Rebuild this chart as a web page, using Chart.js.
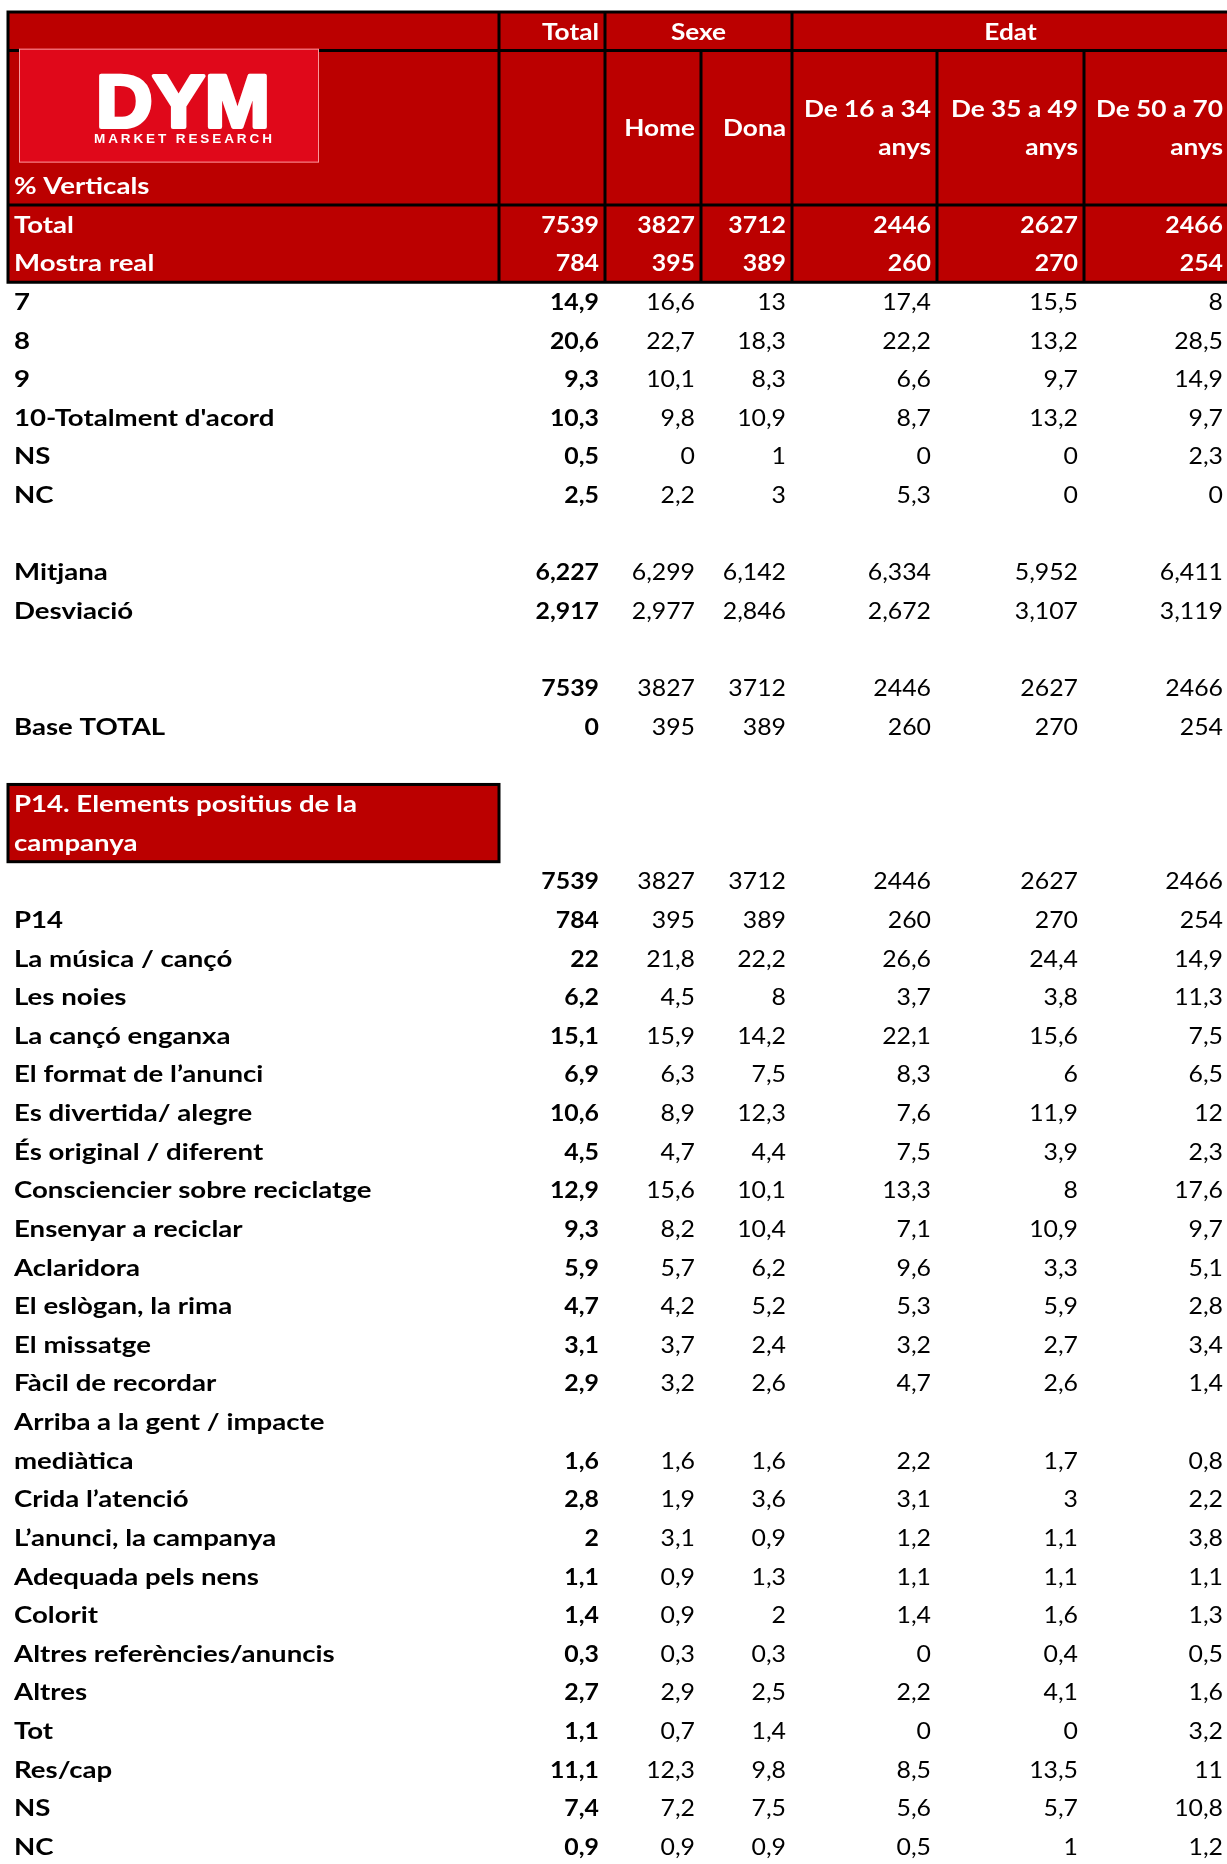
<!DOCTYPE html>
<html lang="ca">
<head>
<meta charset="UTF-8">
<title>P14. Elements positius de la campanya</title>
<script src="https://cdn.jsdelivr.net/npm/chart.js"></script>
<style>
  html, body { margin: 0; padding: 0; background: #ffffff; }
  canvas { display: block; }
</style>
</head>
<body>
<canvas id="taula" width="1227" height="1864"></canvas>
<script>
// ---- dades ----
const grups = ['Total', 'Sexe', 'Edat'];
const grupColumnes = [1, 2, 3];
const columnes = ['Total', 'Home', 'Dona', 'De 16 a 34\nanys', 'De 35 a 49\nanys', 'De 50 a 70\nanys'];

const universTotal = [7539, 3827, 3712, 2446, 2627, 2466];
const mostraReal = [784, 395, 389, 260, 270, 254];

const valoracioEtiquetes = ['7', '8', '9', "10-Totalment d'acord", 'NS', 'NC'];
const valoracioValors = [
  [14.9, 16.6, 13, 17.4, 15.5, 8],
  [20.6, 22.7, 18.3, 22.2, 13.2, 28.5],
  [9.3, 10.1, 8.3, 6.6, 9.7, 14.9],
  [10.3, 9.8, 10.9, 8.7, 13.2, 9.7],
  [0.5, 0, 1, 0, 0, 2.3],
  [2.5, 2.2, 3, 5.3, 0, 0]
];

const estadistEtiquetes = ['Mitjana', 'Desviació'];
const estadistValors = [
  [6.227, 6.299, 6.142, 6.334, 5.952, 6.411],
  [2.917, 2.977, 2.846, 2.672, 3.107, 3.119]
];

const baseEtiqueta = 'Base TOTAL';
const baseValors = [0, 395, 389, 260, 270, 254];

const p14Titol = ['P14. Elements positius de la', 'campanya'];
const p14Base = [784, 395, 389, 260, 270, 254];
const p14Etiquetes = [
  'La música / cançó', 'Les noies', 'La cançó enganxa', 'El format de l’anunci',
  'Es divertida/ alegre', 'És original / diferent', 'Consciencier sobre reciclatge',
  'Ensenyar a reciclar', 'Aclaridora', 'El eslògan, la rima', 'El missatge',
  'Fàcil de recordar', 'Arriba a la gent / impacte\nmediàtica', 'Crida l’atenció',
  'L’anunci, la campanya', 'Adequada pels nens', 'Colorit', 'Altres referències/anuncis',
  'Altres', 'Tot', 'Res/cap', 'NS', 'NC'
];
const p14Valors = [
  [22, 21.8, 22.2, 26.6, 24.4, 14.9],
  [6.2, 4.5, 8, 3.7, 3.8, 11.3],
  [15.1, 15.9, 14.2, 22.1, 15.6, 7.5],
  [6.9, 6.3, 7.5, 8.3, 6, 6.5],
  [10.6, 8.9, 12.3, 7.6, 11.9, 12],
  [4.5, 4.7, 4.4, 7.5, 3.9, 2.3],
  [12.9, 15.6, 10.1, 13.3, 8, 17.6],
  [9.3, 8.2, 10.4, 7.1, 10.9, 9.7],
  [5.9, 5.7, 6.2, 9.6, 3.3, 5.1],
  [4.7, 4.2, 5.2, 5.3, 5.9, 2.8],
  [3.1, 3.7, 2.4, 3.2, 2.7, 3.4],
  [2.9, 3.2, 2.6, 4.7, 2.6, 1.4],
  [1.6, 1.6, 1.6, 2.2, 1.7, 0.8],
  [2.8, 1.9, 3.6, 3.1, 3, 2.2],
  [2, 3.1, 0.9, 1.2, 1.1, 3.8],
  [1.1, 0.9, 1.3, 1.1, 1.1, 1.1],
  [1.4, 0.9, 2, 1.4, 1.6, 1.3],
  [0.3, 0.3, 0.3, 0, 0.4, 0.5],
  [2.7, 2.9, 2.5, 2.2, 4.1, 1.6],
  [1.1, 0.7, 1.4, 0, 0, 3.2],
  [11.1, 12.3, 9.8, 8.5, 13.5, 11],
  [7.4, 7.2, 7.5, 5.6, 5.7, 10.8],
  [0.9, 0.9, 0.9, 0.5, 1, 1.2]
];

// ---- disseny ----
const vermell = '#bb0000';
const vermellLogo = '#e0081a';
const colVores = [8, 499, 605, 701, 792, 937, 1084, 1229];  // unitats de l'eix x
const MIDA = 23;
const ESTIRAT_TEXT = 1.2;   // etiquetes
const ESTIRAT_CAP = 1.14;   // noms de columna
const ESTIRAT_NUM = 1.08;   // xifres
const FONT = 'Lato, "Open Sans", sans-serif';

const fmt = v => (v === null || v === undefined) ? '' : String(v).replace('.', ',');

// files: y en unitats de fila (cos a partir de 0, capçalera en negatiu)
const files = [
  { etiqueta: 'Total', valors: universTotal, top: -2, alt: 1, cap: true },
  { etiqueta: 'Mostra real', valors: mostraReal, top: -1, alt: 1, cap: true }
];
let cursor = 0;
function afegeix(etiqueta, valors, alt = 1) {
  files.push({ etiqueta, valors, top: cursor, alt, cap: false });
  cursor += alt;
}
valoracioEtiquetes.forEach((e, i) => afegeix(e, valoracioValors[i]));
cursor += 1;
estadistEtiquetes.forEach((e, i) => afegeix(e, estadistValors[i]));
cursor += 1;
afegeix('', universTotal);
afegeix(baseEtiqueta, baseValors);
cursor += 1;
const p14Top = cursor;
cursor += 2;
afegeix('', universTotal);
afegeix('P14', p14Base);
p14Etiquetes.forEach((e, i) => afegeix(e, p14Valors[i], e.includes('\n') ? 2 : 1));

const datasets = columnes.map((col, c) => ({
  label: col.replace('\n', ' '),
  data: files.map(f => ({
    x: colVores[c + 2], y: f.top + f.alt - 0.5,
    text: fmt(f.valors[c]), cap: f.cap, bold: c === 0 || f.cap, align: 'right'
  })),
  pointRadius: 0
}));
datasets.push({
  label: 'etiquetes',
  data: files.map(f => ({ x: colVores[0], y: f.top + 0.5, text: f.etiqueta, cap: f.cap, bold: true, align: 'left' })),
  pointRadius: 0
});

function escriu(ctx, t, x, y, align, bold, color, estirat = ESTIRAT_TEXT) {
  ctx.save();
  ctx.font = (bold ? 'bold ' : '') + MIDA + 'px ' + FONT;
  ctx.fillStyle = color;
  ctx.textAlign = align;
  ctx.textBaseline = 'alphabetic';
  ctx.translate(x, y + MIDA * 0.36);
  ctx.scale(estirat, 1);
  ctx.fillText(t, 0, 0);
  ctx.restore();
}

function logo(ctx, x0, y0, x1, y1) {
  const w = x1 - x0, h = y1 - y0;
  ctx.save();
  ctx.fillStyle = vermellLogo;
  ctx.fillRect(x0, y0, w, h);
  ctx.strokeStyle = 'rgba(255,190,190,0.8)';
  ctx.lineWidth = 1;
  ctx.strokeRect(x0 + 0.5, y0 + 0.5, w - 1, h - 1);
  // DYM
  const tx0 = x0 + w * 0.25, tx1 = x0 + w * 0.843;
  const cap = h * 0.47, mida = cap / 0.716;
  ctx.font = 'bold ' + mida + 'px "Liberation Sans", Arial, sans-serif';
  const nat = ctx.measureText('DYM').width;
  ctx.translate(tx0, y0 + h * 0.69);
  ctx.scale((tx1 - tx0 - 4) / nat, 1);
  ctx.fillStyle = '#ffffff';
  ctx.strokeStyle = '#ffffff';
  ctx.lineWidth = 4;
  ctx.lineJoin = 'round';
  ctx.fillText('DYM', 2, 0);
  ctx.strokeText('DYM', 2, 0);
  ctx.restore();
  // MARKET RESEARCH
  ctx.save();
  const m2 = (h * 0.085) / 0.716;
  ctx.font = 'bold ' + m2 + 'px "Liberation Sans", Arial, sans-serif';
  ctx.fillStyle = '#ffffff';
  const lletres = 'MARKET RESEARCH'.split('');
  const amples = lletres.map(l => ctx.measureText(l).width);
  const total = amples.reduce((a, b) => a + b, 0);
  const esp = (tx1 - tx0 - total) / (lletres.length - 1);
  let cx = tx0;
  lletres.forEach((l, i) => { ctx.fillText(l, cx, y0 + h * 0.83); cx += amples[i] + esp; });
  ctx.restore();
}

const taulaPlugin = {
  id: 'taula',
  beforeDatasetsDraw(chart) {
    const ctx = chart.ctx;
    const X = v => chart.scales.x.getPixelForValue(v);
    const Y = v => chart.scales.y.getPixelForValue(v);
    const dreta = X(colVores[7]);
    ctx.save();
    // fons capçalera
    ctx.fillStyle = vermell;
    ctx.fillRect(X(colVores[0]), Y(-7), dreta - X(colVores[0]), Y(0) - Y(-7));
    ctx.strokeStyle = '#000000';
    ctx.lineWidth = 3;
    ctx.beginPath();
    [-7, -6, -2, 0].forEach(r => { ctx.moveTo(X(colVores[0]) - 1.5, Y(r)); ctx.lineTo(dreta, Y(r)); });
    // vores de grup (totes dues files)
    let g = 1;
    const voresGrup = [0, 1];
    grupColumnes.forEach(n => { g += n; voresGrup.push(g); });
    voresGrup.forEach(i => { if (i < 7) { ctx.moveTo(X(colVores[i]), Y(-7)); ctx.lineTo(X(colVores[i]), Y(0)); } });
    // vores de columna (sota la fila de grups)
    for (let i = 2; i < 7; i++) {
      if (!voresGrup.includes(i)) { ctx.moveTo(X(colVores[i]), Y(-6)); ctx.lineTo(X(colVores[i]), Y(0)); }
    }
    ctx.stroke();

    // textos de grup
    let c = 0;
    grups.forEach((nom, i) => {
      const a = colVores[c + 1], b = colVores[c + 1 + grupColumnes[i]];
      if (grupColumnes[i] === 1) escriu(ctx, nom, X(b) - 6, Y(-6.5), 'right', true, '#fff', ESTIRAT_CAP);
      else escriu(ctx, nom, (X(a) + X(b)) / 2, Y(-6.5), 'center', true, '#fff', ESTIRAT_CAP);
      c += grupColumnes[i];
    });
    // noms de columna
    columnes.forEach((nom, i) => {
      if (i === 0) return;
      const linies = nom.split('\n');
      const y0 = -4 - (linies.length - 1) / 2;
      linies.forEach((l, k) => escriu(ctx, l, X(colVores[i + 2]) - 6, Y(y0 + k), 'right', true, '#fff', ESTIRAT_CAP));
    });
    escriu(ctx, '% Verticals', X(colVores[0]) + 6, Y(-2.5), 'left', true, '#fff');
    logo(ctx, X(19), Y(-6.05), X(319), Y(-3.1));

    // caixa del títol P14
    ctx.fillStyle = vermell;
    ctx.fillRect(X(colVores[0]), Y(p14Top), X(colVores[1]) - X(colVores[0]), Y(p14Top + 2) - Y(p14Top));
    ctx.strokeStyle = '#000';
    ctx.lineWidth = 3;
    ctx.strokeRect(X(colVores[0]), Y(p14Top), X(colVores[1]) - X(colVores[0]), Y(p14Top + 2) - Y(p14Top));
    p14Titol.forEach((l, k) => escriu(ctx, l, X(colVores[0]) + 6, Y(p14Top + 0.5 + k), 'left', true, '#fff'));
    ctx.restore();
  },
  afterDatasetsDraw(chart) {
    const ctx = chart.ctx;
    const pasFila = chart.scales.y.getPixelForValue(1) - chart.scales.y.getPixelForValue(0);
    chart.data.datasets.forEach((ds, i) => {
      const meta = chart.getDatasetMeta(i);
      meta.data.forEach((el, j) => {
        const p = ds.data[j];
        if (!p.text) return;
        const color = p.cap ? '#ffffff' : '#000000';
        const dx = p.align === 'right' ? -6 : 6;
        const estirat = p.align === 'right' ? ESTIRAT_NUM : ESTIRAT_TEXT;
        p.text.split('\n').forEach((l, k) => escriu(ctx, l, el.x + dx, el.y + k * pasFila, p.align, p.bold, color, estirat));
      });
    });
  }
};

new Chart(document.getElementById('taula'), {
  type: 'scatter',
  data: { datasets },
  options: {
    responsive: false,
    animation: false,
    devicePixelRatio: 1,
    events: [],
    layout: { padding: 0 },
    plugins: { legend: { display: false }, tooltip: { enabled: false } },
    scales: {
      x: { type: 'linear', display: false, min: 0, max: 1227 },
      y: { type: 'linear', display: false, min: -7.31, max: 40.95, reverse: true }
    }
  },
  plugins: [taulaPlugin]
});
</script>
</body>
</html>
